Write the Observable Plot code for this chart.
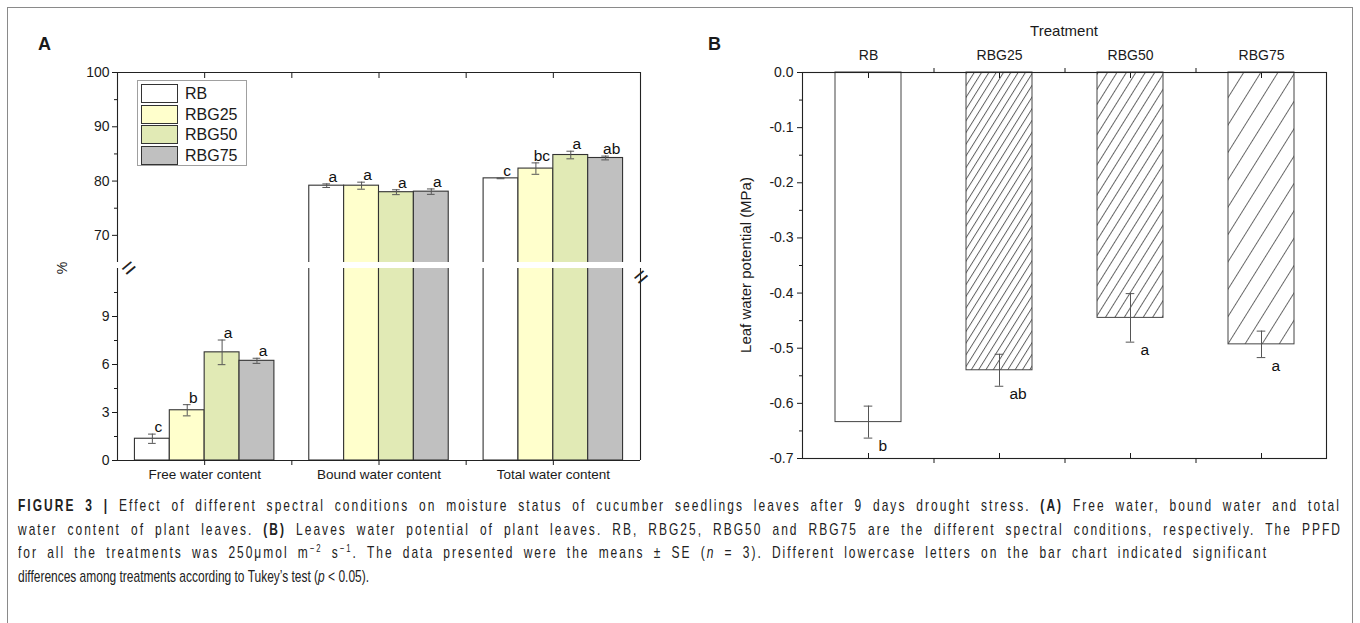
<!DOCTYPE html>
<html>
<head>
<meta charset="utf-8">
<script src="https://cdn.jsdelivr.net/npm/d3@7"></script>
<script src="https://cdn.jsdelivr.net/npm/@observablehq/plot@0.6"></script>
<style>
  body { margin: 0; background: #fff; }
  #fig { position: relative; width: 1360px; height: 623px; overflow: hidden; font-family: "Liberation Sans", Arial, sans-serif; color: #1a1a1a; }
  #border { position: absolute; left: 7px; top: 7px; width: 1346px; height: 640px; border: 1px solid #8a8a8a; box-sizing: border-box; }
  .abs { position: absolute; }
  .panel { position: absolute; font-weight: bold; font-size: 18px; }
  .legend { position: absolute; left: 137px; top: 80px; width: 110px; height: 86px; border: 1px solid #a0a0a0; box-sizing: border-box; background: #fff; }
  .legend .row { position: absolute; left: 3px; height: 19px; }
  .legend .sw { position: absolute; left: 0; top: 0; width: 37px; height: 19px; border: 1.5px solid #333; box-sizing: border-box; }
  .legend .lb { position: absolute; left: 44px; top: 0px; font-size: 16px; line-height: 19px; white-space: nowrap; }
  .vlabel { position: absolute; transform: translate(-50%, -50%) rotate(-90deg); white-space: nowrap; }
  #caption { position: absolute; left: 18px; top: 494px; font-size: 17px; color: #222; }
  #caption .ln { white-space: nowrap; height: 23.5px; line-height: 23.5px; transform-origin: 0 50%; display: block; width: max-content; }
  sup { font-size: 11px; line-height: 0; vertical-align: 6px; }
</style>
</head>
<body>
<div id="fig">
  <div id="border"></div>
  <div class="panel" style="left:38px; top:34px;">A</div>
  <div class="panel" style="left:708px; top:34px;">B</div>
  <div id="Aup" class="abs" style="left:0; top:0;"></div>
  <div id="Alow" class="abs" style="left:0; top:258px;"></div>
  <div id="B" class="abs" style="left:690px; top:0;"></div>
  <div class="vlabel" style="left:62px; top:268px; font-size:14px;">%</div>
  <div class="vlabel" style="left:745px; top:265px; font-size:15px;">Leaf water potential (MPa)</div>
  <div class="abs" style="left:1064px; top:30px; transform: translate(-50%,-50%); font-size:15px; white-space:nowrap;">Treatment</div>
  <div class="legend" id="legend"></div>
  <div id="caption">
    <div class="ln" data-w="1323"><b>FIGURE 3 |</b> Effect of different spectral conditions on moisture status of cucumber seedlings leaves after 9 days drought stress. <b>(A)</b> Free water, bound water and total</div>
    <div class="ln" data-w="1324">water content of plant leaves. <b>(B)</b> Leaves water potential of plant leaves. RB, RBG25, RBG50 and RBG75 are the different spectral conditions, respectively. The PPFD</div>
    <div class="ln" data-w="1250">for all the treatments was 250μmol m<sup>−2</sup> s<sup>−1</sup>. The data presented were the means ± SE (<i>n</i> = 3). Different lowercase letters on the bar chart indicated significant</div>
    <div class="ln" data-w="351" data-last="1">differences among treatments according to Tukey’s test (<i>p</i> &lt; 0.05).</div>
  </div>
</div>
<script>
// ---------------- data ----------------
const groups = ["Free water content", "Bound water content", "Total water content"];
const treatments = ["RB", "RBG25", "RBG50", "RBG75"];

const freeMean = [1.36, 3.14, 6.76, 6.23];
const freeSE = [0.29, 0.35, 0.77, 0.16];
const freeLetters = ["c", "b", "a", "a"];

const boundMean = [79.15, 79.15, 77.95, 78.05];
const boundSE = [0.33, 0.65, 0.45, 0.5];
const boundLetters = ["a", "a", "a", "a"];

const totalMean = [80.5, 82.3, 84.8, 84.25];
const totalSE = [0.07, 1.05, 0.7, 0.35];
const totalLetters = ["c", "bc", "a", "ab"];

const potMean = [-0.634, -0.540, -0.445, -0.493];
const potSE = [0.029, 0.029, 0.044, 0.024];
const potLetters = ["b", "ab", "a", "a"];

// axis ticks / break
const lowerDomain = [0, 12];
const upperDomain = [65, 100];
const lowerTicks = [0, 3, 6, 9];
const lowerMinor = [1.5, 4.5, 7.5, 10.5];
const upperTicks = [70, 80, 90, 100];
const upperMinor = [75, 85, 95];
const potTicks = [0, -0.1, -0.2, -0.3, -0.4, -0.5, -0.6, -0.7];
const potMinor = [-0.05, -0.15, -0.25, -0.35, -0.45, -0.55, -0.65];

// styles
const colorsA = ["#ffffff", "#ffffcc", "#e1eab5", "#c0c0c0"];
const fillsB = ["#ffffff", "url(#h25)", "url(#h50)", "url(#h75)"];

// ---------------- tables ----------------
const meansA = [freeMean, boundMean, totalMean];
const seA = [freeSE, boundSE, totalSE];
const lettersA = [freeLetters, boundLetters, totalLetters];
const rowsA = groups.flatMap((g, gi) => treatments.map((t, ti) => ({
  group: g, gi, t, ti, mean: meansA[gi][ti], se: seA[gi][ti], letter: lettersA[gi][ti]
})));
const rowsB = treatments.map((t, ti) => ({t, ti, mean: potMean[ti], se: potSE[ti], letter: potLetters[ti]}));

const barW = 0.2;   // fraction of a group slot occupied by one bar
const cap = 0.022;  // half width of error caps (x units)
const xc = d => d.gi + 1 + (d.ti - 1.5) * barW;
const font = "Liberation Sans, Arial, sans-serif";

function panelAMarks(rows, yTicks, yMinor, isUpper) {
  const m = [
    Plot.rectY(rowsA, {x1: d => xc(d) - barW / 2, x2: d => xc(d) + barW / 2, y1: 0, y2: "mean",
      fill: "t", stroke: "#333", strokeWidth: 1.1, clip: true}),
    Plot.ruleX(rows, {x: xc, y1: d => d.mean - d.se, y2: d => d.mean + d.se, stroke: "#555", clip: true}),
    Plot.ruleY(rows, {y: d => d.mean + d.se, x1: d => xc(d) - cap, x2: d => xc(d) + cap, stroke: "#555", clip: true}),
    Plot.ruleY(rows, {y: d => d.mean - d.se, x1: d => xc(d) - cap, x2: d => xc(d) + cap, stroke: "#555", clip: true}),
    Plot.text(rows, {x: xc, y: d => d.mean + d.se, text: "letter", lineAnchor: "bottom", dx: 6, dy: -2, fontSize: 15.5, fill: "#111"}),
    Plot.ruleX([0.5, 3.5], {stroke: "#222", strokeWidth: 1.1}),
    Plot.axisY({ticks: yTicks, tickSize: 5, tickPadding: 3, fontSize: 14, label: null}),
    Plot.axisY({ticks: yMinor, tickSize: 3, tickFormat: () => "", label: null})
  ];
  if (isUpper) {
    m.push(Plot.ruleY([upperDomain[1]], {stroke: "#222", strokeWidth: 1.1}));
    m.push(Plot.axisX({anchor: "top", ticks: [1, 1.5, 2, 2.5, 3], tickSize: -5, tickFormat: () => "", label: null}));
  } else {
    m.push(Plot.ruleY([lowerDomain[0]], {stroke: "#222", strokeWidth: 1.1}));
    m.push(Plot.axisX({anchor: "bottom", ticks: [1, 1.5, 2, 2.5, 3], tickSize: 5, tickPadding: 4, fontSize: 13.5,
      tickFormat: v => Number.isInteger(v) ? groups[v - 1] : "", label: null}));
    // axis-break marks on the left and right axes
    for (const fa of ["top-left", "top-right"]) {
      m.push(Plot.text(["="], {frameAnchor: fa, text: d => d, rotate: -40, fontSize: 24, fontWeight: "normal", dy: -3, fill: "#222"}));
    }
  }
  return m;
}

const common = {
  width: 660, marginLeft: 117, marginRight: 20,
  x: {domain: [0.5, 3.5]},
  color: {domain: treatments, range: colorsA},
  style: {fontFamily: font, color: "#1a1a1a", background: "transparent", overflow: "visible"}
};

const up = Plot.plot({
  ...common, height: 262, marginTop: 72, marginBottom: 0,
  y: {domain: upperDomain},
  marks: panelAMarks(rowsA.filter(d => d.gi > 0), upperTicks, upperMinor, true)
});
document.getElementById("Aup").append(up);

const low = Plot.plot({
  ...common, height: 230, marginTop: 10, marginBottom: 28,
  y: {domain: lowerDomain},
  marks: panelAMarks(rowsA.filter(d => d.gi === 0), lowerTicks, lowerMinor, false)
});
document.getElementById("Alow").append(low);

// ---------------- panel B ----------------
const bandHalfStep = 65.5;
const B = Plot.plot({
  width: 646, height: 478, marginLeft: 112, marginRight: 10, marginTop: 72, marginBottom: 20,
  x: {domain: treatments, paddingInner: 0.5, paddingOuter: 0.25},
  y: {domain: [-0.7, 0]},
  color: {type: "identity"},
  style: {fontFamily: font, color: "#1a1a1a", background: "transparent", overflow: "visible"},
  marks: [
    Plot.barY(rowsB, {x: "t", y1: 0, y2: "mean", fill: d => fillsB[d.ti], stroke: "#444", strokeWidth: 1}),
    Plot.ruleX(rowsB, {x: "t", y1: d => d.mean - d.se, y2: d => d.mean + d.se, stroke: "#555"}),
    Plot.tickY(rowsB, {x: "t", y: d => d.mean + d.se, insetLeft: 28.7, insetRight: 28.7, stroke: "#555"}),
    Plot.tickY(rowsB, {x: "t", y: d => d.mean - d.se, insetLeft: 28.7, insetRight: 28.7, stroke: "#555"}),
    Plot.text(rowsB, {x: "t", y: d => d.mean - d.se, text: "letter", lineAnchor: "top", textAnchor: "start", dx: 10, dy: 2, fontSize: 15.5, fill: "#111"}),
    Plot.frame({stroke: "#222", strokeWidth: 1.1}),
    Plot.axisY({ticks: potTicks, tickSize: 5, tickPadding: 4, fontSize: 14, tickFormat: v => v.toFixed(1), label: null}),
    Plot.axisY({ticks: potMinor, tickSize: 3, tickFormat: () => "", label: null}),
    Plot.axisX({anchor: "top", tickSize: -5, tickFormat: () => "", label: null}),
    Plot.axisX({anchor: "top", tickSize: 0, tickPadding: 13, fontSize: 14, label: null}),
    Plot.axisX({anchor: "top", ticks: treatments.slice(0, 3), tickSize: 5, dx: bandHalfStep, tickFormat: () => "", label: null}),
    Plot.axisX({anchor: "bottom", tickSize: -5, tickFormat: () => "", label: null}),
    Plot.axisX({anchor: "bottom", ticks: treatments.slice(0, 3), tickSize: 5, dx: bandHalfStep, tickFormat: () => "", label: null})
  ]
});
const ns = "http://www.w3.org/2000/svg";
const defs = document.createElementNS(ns, "defs");
const hatch = (id, s) => `<pattern id="${id}" patternUnits="userSpaceOnUse" width="${s}" height="12" patternTransform="rotate(32)"><line x1="0.5" y1="-1" x2="0.5" y2="13" stroke="#555" stroke-width="0.9"/></pattern>`;
defs.innerHTML = hatch("h25", 6.2) + hatch("h50", 8.0) + hatch("h75", 14.5);
B.prepend(defs);
document.getElementById("B").append(B);

// ---------------- legend (A) ----------------
const leg = document.getElementById("legend");
treatments.forEach((t, i) => {
  const r = document.createElement("div");
  r.className = "row";
  r.style.top = (3 + i * 20.5) + "px";
  r.innerHTML = `<div class="sw" style="background:${colorsA[i]}"></div><div class="lb">${t}</div>`;
  leg.append(r);
});

// ---------------- caption: condensed, justified lines ----------------
const lines = [...document.querySelectorAll("#caption .ln")];
const last = lines.find(el => el.dataset.last);
const condense = (+last.dataset.w) / last.getBoundingClientRect().width;
lines.forEach(el => {
  const target = +el.dataset.w;
  if (!el.dataset.last) {
    const w0 = el.getBoundingClientRect().width;
    const txt = el.textContent;
    const nChars = txt.length;
    const nGaps = (txt.match(/ /g) || []).length;
    const extra = target / condense - w0;
    el.style.letterSpacing = (0.75 * extra / nChars) + "px";
    el.style.wordSpacing = (0.25 * extra / nGaps) + "px";
  }
  const w1 = el.getBoundingClientRect().width;
  el.style.transform = `scaleX(${target / w1})`;
});
</script>
</body>
</html>
